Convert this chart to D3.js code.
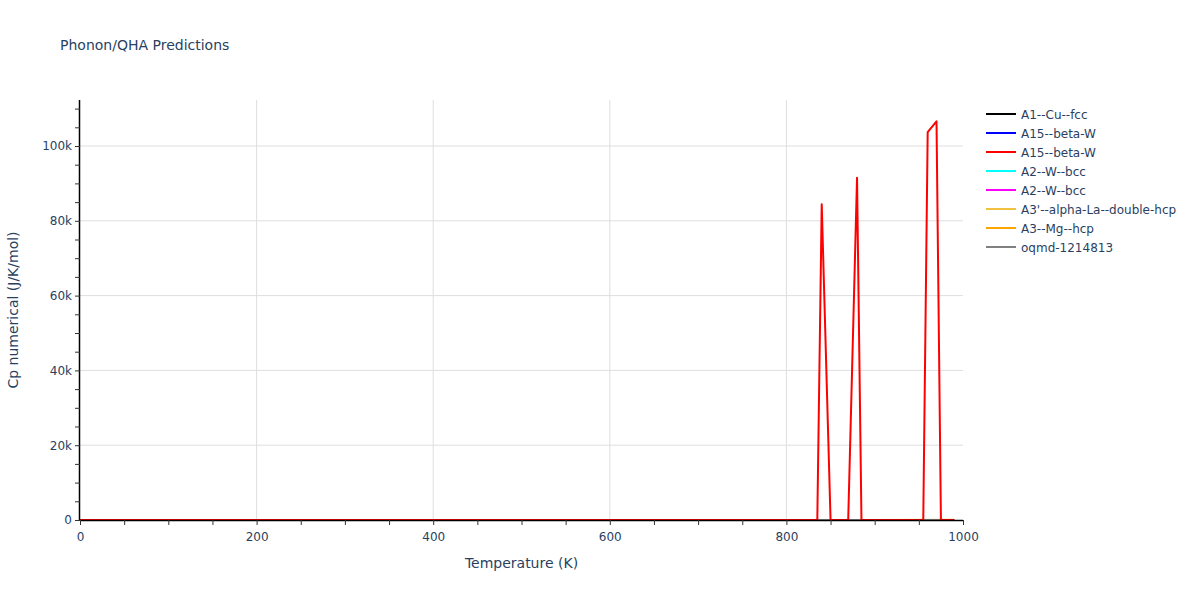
<!DOCTYPE html>
<html><head><meta charset="utf-8">
<script src="https://cdn.jsdelivr.net/npm/d3@7"></script>
<style>body{margin:0;background:#fff;} svg{font-family:"DejaVu Sans",Verdana,sans-serif;}</style>
</head><body>
<svg id="chart" width="1200" height="600"></svg>
<script>
// ---- data ----
const seriesNames = ["A1--Cu--fcc","A15--beta-W","A15--beta-W","A2--W--bcc","A2--W--bcc","A3'--alpha-La--double-hcp","A3--Mg--hcp","oqmd-1214813"];
const seriesColors = ["#000000","#0000ff","#ff0000","#00ffff","#ff00ff","#f0c040","#ffa500","#808080"];
const tempsCommon = [0,50,100,150,200,300,400,500,600,700,800,900,990];
const cpCu   = [0,12,20,23,24,25,25,26,26,27,27,28,28];
const cpW1   = [0,10,18,22,23,24,25,25,26,26,27,27,28];
const cpW2Temps = [0,50,100,200,300,400,500,600,700,800,830,835,840,850,860,870,880,885,890,900,950,955,960,970,975,980,990];
const cpW2   = [0,11,19,23,24,25,25,26,26,27,27,28,84400,28,28,28,91500,28,28,28,29,29,103700,106600,29,29,29];
const cpBcc1 = [0,9,17,22,23,24,25,25,26,26,27,27,27];
const cpBcc2 = [0,9,17,22,23,24,25,25,26,26,27,27,27];
const cpLa   = [0,20,24,25,26,27,28,29,30,31,32,33,34];
const cpMg   = [0,14,20,23,24,25,26,27,28,29,30,31,32];
const cpOqmd = [0,15,22,24,25,26,27,28,29,30,31,32,33];
const xTicks = [0,200,400,600,800,1000];
const yTicks = [0,20000,40000,60000,80000,100000];
const yTickLabels = ["0","20k","40k","60k","80k","100k"];

const seriesData = [
  [tempsCommon, cpCu],[tempsCommon, cpW1],[cpW2Temps, cpW2],[tempsCommon, cpBcc1],
  [tempsCommon, cpBcc2],[tempsCommon, cpLa],[tempsCommon, cpMg],[tempsCommon, cpOqmd]
];

// ---- layout ----
const FONT = '"DejaVu Sans",Verdana,sans-serif';
const svg = d3.select("#chart");
const L = 80, R = 963, T = 100, B = 520;
const x = d3.scaleLinear().domain([0,1000]).range([L,R]);
const y = d3.scaleLinear().domain([0,112300]).range([B,T]);
const textColor = "#2a3f5f";

// grid
svg.append("g").selectAll("line").data(xTicks.filter(d=>d>0 && d<1000)).join("line")
  .attr("x1",d=>x(d)).attr("x2",d=>x(d)).attr("y1",T).attr("y2",B)
  .attr("stroke","#dedede").attr("stroke-width",1);
svg.append("g").selectAll("line").data(yTicks.filter(d=>d>0)).join("line")
  .attr("x1",L).attr("x2",R).attr("y1",d=>y(d)).attr("y2",d=>y(d))
  .attr("stroke","#dedede").attr("stroke-width",1);

// lines
const line = d3.line().x(d=>x(d[0])).y(d=>y(d[1]));
const order = [0,1,3,4,5,6,7,2];
order.forEach(i=>{
  const [ts, vs] = seriesData[i];
  svg.append("path").datum(ts.map((t,k)=>[t,vs[k]]))
    .attr("d",line).attr("fill","none").attr("stroke",seriesColors[i])
    .attr("stroke-width",2).attr("stroke-linejoin","round");
});

// axes
const xAxis = d3.axisBottom(x).tickValues(d3.range(0,1001,50)).tickSize(5)
  .tickFormat(d=> xTicks.includes(d) ? d : "");
const gx = svg.append("g").attr("transform",`translate(0,${B})`).call(xAxis);
gx.select(".domain").attr("stroke","#000").attr("stroke-width",1.5).attr("d",`M${L},0.5H${R}`);
gx.selectAll(".tick line").attr("stroke","#333");
gx.selectAll(".tick text").attr("fill",textColor).attr("font-size",12).attr("dy","1.1em")
  .attr("font-family",FONT);

const yAxis = d3.axisLeft(y).tickValues(d3.range(0,112001,5000)).tickSize(5)
  .tickFormat(d=>{const i=yTicks.indexOf(d); return i>=0?yTickLabels[i]:"";});
const gy = svg.append("g").attr("transform",`translate(${L},0)`).call(yAxis);
gy.select(".domain").attr("stroke","#000").attr("stroke-width",1.5).attr("d",`M-0.5,${B}V${T}`);
gy.selectAll(".tick line").attr("stroke","#333");
gy.selectAll(".tick text").attr("fill",textColor).attr("font-size",12).attr("x",-8)
  .attr("font-family",FONT);

// titles
svg.append("text").attr("x",60).attr("y",50).attr("fill",textColor).attr("font-size",14)
  .text("Phonon/QHA Predictions");
svg.append("text").attr("x",(L+R)/2).attr("y",568).attr("text-anchor","middle")
  .attr("fill",textColor).attr("font-size",14).text("Temperature (K)");
svg.append("text").attr("transform",`translate(18,${(T+B)/2}) rotate(-90)`).attr("text-anchor","middle")
  .attr("fill",textColor).attr("font-size",14).text("Cp numerical (J/K/mol)");

// legend
const lg = svg.append("g");
seriesNames.forEach((n,i)=>{
  const yy = 114 + i*19;
  lg.append("line").attr("x1",986).attr("x2",1016).attr("y1",yy).attr("y2",yy)
    .attr("stroke",seriesColors[i]).attr("stroke-width",2);
  lg.append("text").attr("x",1021).attr("y",yy+4.5).attr("fill",textColor).attr("font-size",12).text(n);
});
</script>
</body></html>
